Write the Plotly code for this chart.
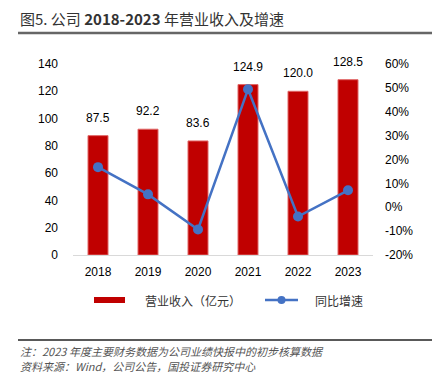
import plotly.graph_objects as go

years = ["2018", "2019", "2020", "2021", "2022", "2023"]
revenue = [87.5, 92.2, 83.6, 124.9, 120.0, 128.5]
growth = [16.8, 5.4, -9.3, 49.4, -3.9, 7.1]
revenue_labels = ["87.5", "92.2", "83.6", "124.9", "120.0", "128.5"]
left_ticks = [0, 20, 40, 60, 80, 100, 120, 140]
right_ticks = [-20, -10, 0, 10, 20, 30, 40, 50, 60]
right_labels = [f"{v}%" for v in right_ticks]

OFF = 8  # default page body margin
W, H = 440 - OFF, 376 - OFF
L, R, T, B = 73 - OFF, 373 - OFF, 64 - OFF, 255 - OFF

def px(x):
    return (x - OFF - L) / (R - L)

def py(y):
    return (B - (y - OFF)) / (B - T)

CJK = "Noto Sans CJK SC"
LAT = "Liberation Sans, Arial, sans-serif"

fig = go.Figure()
fig.add_trace(go.Bar(
    x=years, y=revenue, name="营业收入（亿元）",
    marker=dict(color="#C00000", line=dict(color="#E06666", width=1)),
    width=0.4, showlegend=False,
))
fig.add_trace(go.Scatter(
    x=years, y=growth, name="同比增速", yaxis="y2",
    mode="lines+markers",
    line=dict(color="#4472C4", width=2.5),
    marker=dict(color="#4472C4", size=10),
    showlegend=False,
))

fig.update_layout(
    width=W, height=H,
    margin=dict(l=L, r=W - R, t=T, b=H - B),
    paper_bgcolor="white", plot_bgcolor="white",
    font=dict(family=LAT, size=12, color="#000000"),
    xaxis=dict(type="category", range=[-0.5, len(years) - 0.5], showgrid=False,
               showline=True, linecolor="#D9D9D9", linewidth=1,
               ticks="", tickfont=dict(family=LAT, size=12), ticklabelstandoff=6),
    yaxis=dict(range=[0, 140], tickvals=left_ticks, showgrid=False, zeroline=False,
               showline=False, tickfont=dict(family=LAT, size=12), ticklabelstandoff=14),
    yaxis2=dict(range=[-20, 60], tickvals=right_ticks, ticktext=right_labels, overlaying="y",
                side="right", showgrid=False, zeroline=False, showline=False,
                tickfont=dict(family=LAT, size=12), ticklabelstandoff=11),
    showlegend=False,
)

shapes = []
annotations = []
# bar value labels (x = category index on the category axis)
for i, (v, lab) in enumerate(zip(revenue, revenue_labels)):
    annotations.append(dict(x=i, y=v, xref="x", yref="y", text=lab, showarrow=False,
                            yanchor="bottom", yshift=9,
                            font=dict(family=LAT, size=12, color="#000000")))
# title
annotations.append(dict(
    xref="paper", yref="paper", x=px(18), y=py(18), xanchor="left", yanchor="middle",
    text="图5. 公司 <b>2018-2023</b> 年营业收入及增速", showarrow=False,
    font=dict(family=CJK, size=15, color="#333333"),
))
shapes.append(dict(type="line", xref="paper", yref="paper", x0=px(18), x1=px(435),
                   y0=py(33), y1=py(33), line=dict(color="#666666", width=2.5)))
# legend
shapes.append(dict(type="rect", xref="paper", yref="paper", x0=px(94), x1=px(125),
                   y0=py(297), y1=py(303), fillcolor="#C00000", line=dict(width=0)))
annotations.append(dict(xref="paper", yref="paper", x=px(143), y=py(300), xanchor="left",
                        yanchor="middle", text="营业收入（亿元）", showarrow=False,
                        font=dict(family=CJK, size=12, color="#333333")))
shapes.append(dict(type="line", xref="paper", yref="paper", x0=px(265), x1=px(298),
                   y0=py(300), y1=py(300), line=dict(color="#4472C4", width=2.5)))
shapes.append(dict(type="circle", xref="paper", yref="paper", x0=px(277.5), x1=px(285.5),
                   y0=py(296), y1=py(304), fillcolor="#4472C4", line=dict(width=0)))
annotations.append(dict(xref="paper", yref="paper", x=px(313), y=py(300), xanchor="left",
                        yanchor="middle", text="同比增速", showarrow=False,
                        font=dict(family=CJK, size=12, color="#333333")))
# footer
shapes.append(dict(type="line", xref="paper", yref="paper", x0=px(18), x1=px(435),
                   y0=py(340), y1=py(340), line=dict(color="#222222", width=1.5)))
annotations.append(dict(xref="paper", yref="paper", x=px(18), y=py(351), xanchor="left",
                        yanchor="middle", text="<i>注：2023 年度主要财务数据为公司业绩快报中的初步核算数据</i>",
                        showarrow=False, font=dict(family=CJK, size=11, color="#555555")))
annotations.append(dict(xref="paper", yref="paper", x=px(18), y=py(366), xanchor="left",
                        yanchor="middle", text="<i>资料来源：Wind，公司公告，国投证券研究中心</i>",
                        showarrow=False, font=dict(family=CJK, size=11, color="#555555")))

fig.update_layout(shapes=shapes, annotations=annotations)
fig.write_html("out.html")
